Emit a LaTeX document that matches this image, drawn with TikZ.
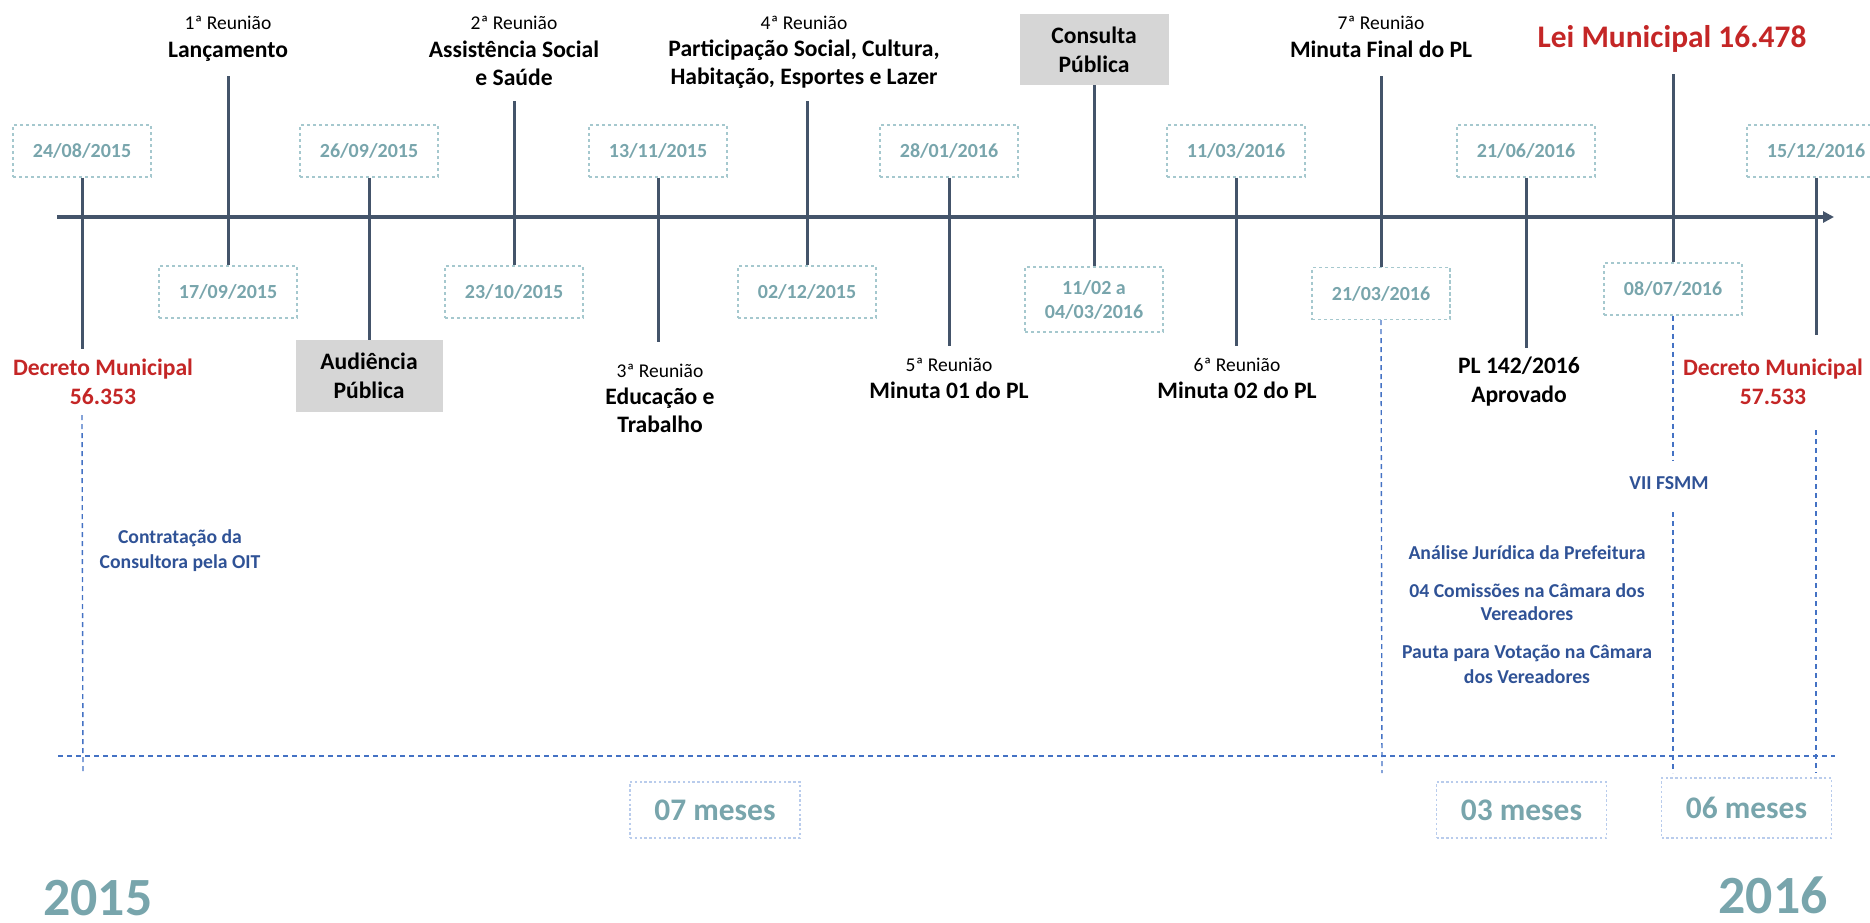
\documentclass[tikz,border=0pt]{standalone}
\usepackage{fontspec}
\setmainfont{Carlito}
\usetikzlibrary{arrows.meta}
\definecolor{axiscol}{RGB}{68,84,106}
\definecolor{datecol}{RGB}{120,165,172}
\definecolor{dateborder}{RGB}{165,200,206}
\definecolor{mesborder}{RGB}{185,204,236}
\definecolor{redcol}{RGB}{196,38,38}
\definecolor{bluetext}{RGB}{47,82,150}
\definecolor{bluedashcol}{RGB}{68,114,196}
\definecolor{grayfill}{RGB}{214,214,214}
\begin{document}
\begin{tikzpicture}[x=0.5pt,y=-0.5pt,
  axisline/.style={draw=axiscol, line width=1.6pt},
  tickline/.style={draw=axiscol, line width=1.5pt},
  lbl/.style={font=\bfseries\fontsize{11.8}{14.5}\selectfont, anchor=base, inner sep=0pt},
  redlbl/.style={lbl, text=redcol},
  sublbl/.style={font=\fontsize{9.75}{12}\selectfont, anchor=base, inner sep=0pt},
  datebox/.style={draw=dateborder, dash pattern=on 1.6pt off 1.4pt, line width=0.6pt,
     minimum width=69pt, minimum height=26pt, text=datecol, inner sep=0pt, align=center,
     font=\bfseries\fontsize{10}{12}\selectfont},
  graybox/.style={fill=grayfill, inner sep=0pt, align=center,
     font=\bfseries\fontsize{11.8}{14.5}\selectfont},
  bluedash/.style={draw=bluedashcol, line width=0.7pt, dash pattern=on 2.5pt off 2pt},
  bluetxt/.style={text=bluetext, font=\bfseries\fontsize{9.85}{12}\selectfont, anchor=base, inner sep=0pt},
  mesbox/.style={draw=mesborder, dash pattern=on 1.2pt off 1.2pt, line width=0.6pt,
     minimum width=85pt, minimum height=28pt, text=datecol, inner sep=0pt,
     font=\bfseries\fontsize{15.7}{18}\selectfont},
  yearlbl/.style={text=datecol, font=\bfseries\fontsize{26.9}{30}\selectfont, inner sep=0pt}
]
\useasboundingbox (0,0) rectangle (1870,922);

% main axis
\coordinate (axL) at (57,217);
\coordinate (axR) at (1834,217);
\draw[axisline, -{Triangle[length=5.5pt,width=5.5pt]}] (axL) -- (axR);

% date boxes above the axis
\node[datebox] (d1) at (82,151) {24/08/2015};
\node[datebox] (d3) at (369,151) {26/09/2015};
\node[datebox] (d5) at (658,151) {13/11/2015};
\node[datebox] (d7) at (949,151) {28/01/2016};
\node[datebox] (d9) at (1236,151) {11/03/2016};
\node[datebox] (d11) at (1526,151) {21/06/2016};
\node[datebox] (d13) at (1816,151) {15/12/2016};
% date boxes below the axis
\node[datebox] (d2) at (228,292) {17/09/2015};
\node[datebox] (d4) at (514,292) {23/10/2015};
\node[datebox] (d6) at (807,292) {02/12/2015};
\node[datebox, minimum height=32.5pt] (d8) at (1094,299.5) {11/02 a\\04/03/2016};
\node[datebox] (d10) at (1381,293.5) {21/03/2016};
\node[datebox] (d12) at (1673,289) {08/07/2016};

% gray boxes
\node[graybox, minimum width=73.5pt, minimum height=36pt] (aud) at (369,376) {Audiência\\Pública};
\node[graybox, minimum width=74.5pt, minimum height=35.5pt] (cons) at (1094,49.5) {Consulta\\Pública};

% tick end coordinates
\coordinate (t1e) at (82,349);
\coordinate (t2s) at (228,76);
\coordinate (t4s) at (514,101);
\coordinate (t5e) at (658,342);
\coordinate (t6s) at (807,101);
\coordinate (t7e) at (949,346);
\coordinate (t9e) at (1236,346);
\coordinate (t10s) at (1381,76);
\coordinate (t11e) at (1526,348);
\coordinate (t12s) at (1673,74);
\coordinate (t13e) at (1816,335);

% ticks
\draw[tickline] (d1.south) -- (t1e);
\draw[tickline] (t2s) -- (d2.north);
\draw[tickline] (d3.south) -- (aud.north);
\draw[tickline] (t4s) -- (d4.north);
\draw[tickline] (d5.south) -- (t5e);
\draw[tickline] (t6s) -- (d6.north);
\draw[tickline] (d7.south) -- (t7e);
\draw[tickline] (cons.south) -- (d8.north);
\draw[tickline] (d9.south) -- (t9e);
\draw[tickline] (t10s) -- (d10.north);
\draw[tickline] (d11.south) -- (t11e);
\draw[tickline] (t12s) -- (d12.north);
\draw[tickline] (d13.south) -- (t13e);

% labels above
\node[sublbl] (r1) at (228,29) {1ª Reunião};
\node[lbl] (l1) at (228,57) {Lançamento};
\node[sublbl] (r2) at (514,29) {2ª Reunião};
\node[lbl] (l2a) at (514,57) {Assistência Social};
\node[lbl] (l2b) at (514,85) {e Saúde};
\node[sublbl] (r4) at (804,29) {4ª Reunião};
\node[lbl] (l4a) at (804,56) {Participação Social, Cultura,};
\node[lbl] (l4b) at (804,84) {Habitação, Esportes e Lazer};
\node[sublbl] (r7) at (1381,29) {7ª Reunião};
\node[lbl] (l7) at (1381,57) {Minuta Final do PL};
\node[redlbl, font=\bfseries\fontsize{15.7}{18}\selectfont] (lei) at (1672,47) {Lei Municipal 16.478};

% labels below
\node[redlbl] (dec1a) at (103,375.5) {Decreto Municipal};
\node[redlbl] (dec1b) at (103,404.5) {56.353};
\node[sublbl] (r3) at (660,377) {3ª Reunião};
\node[lbl] (l3a) at (660,404.5) {Educação e};
\node[lbl] (l3b) at (660,432.5) {Trabalho};
\node[sublbl] (r5) at (949,371) {5ª Reunião};
\node[lbl] (l5) at (949,398.5) {Minuta 01 do PL};
\node[sublbl] (r6) at (1237,371) {6ª Reunião};
\node[lbl] (l6) at (1237,398.5) {Minuta 02 do PL};
\node[lbl] (pla) at (1519,373.5) {PL 142/2016};
\node[lbl] (plb) at (1519,402.5) {Aprovado};
\node[redlbl] (dec2a) at (1773,375.5) {Decreto Municipal};
\node[redlbl] (dec2b) at (1773,404.5) {57.533};

% blue notes
\node[bluetxt] (c1) at (180,543) {Contratação da};
\node[bluetxt] (c2) at (180,568) {Consultora pela OIT};
\node[bluetxt] (vii) at (1669,489) {VII FSMM};
\node[bluetxt] (an) at (1527,559) {Análise Jurídica da Prefeitura};
\node[bluetxt] (co1) at (1527,597) {04 Comissões na Câmara dos};
\node[bluetxt] (co2) at (1527,620) {Vereadores};
\node[bluetxt] (pa1) at (1527,658) {Pauta para Votação na Câmara};
\node[bluetxt] (pa2) at (1527,683) {dos Vereadores};

% blue dashed guides
\coordinate (g1s) at (82,415);
\coordinate (g1e) at (83,772);
\coordinate (g2e) at (1382,773);
\coordinate (g3a) at (1673,460);
\coordinate (g3b) at (1673,512);
\coordinate (g3e) at (1673,773);
\coordinate (g4s) at (1816,430);
\coordinate (g4e) at (1816,773);
\coordinate (hL) at (58,756);
\coordinate (hR) at (1835,756);
\draw[bluedash] (g1s) -- (g1e);
\draw[bluedash] (d10.south) -- (g2e);
\draw[bluedash] (d12.south) -- (g3a);
\draw[bluedash] (g3b) -- (g3e);
\draw[bluedash] (g4s) -- (g4e);
\draw[bluedash] (hL) -- (hR);

% period boxes
\node[mesbox] (m7) at (715,810) {07 meses};
\node[mesbox] (m3) at (1521.5,810) {03 meses};
\node[mesbox, minimum height=30pt] (m6) at (1746.5,808) {06 meses};

% years
\node[yearlbl, anchor=base west] (y15) at (43,915) {2015};
\node[yearlbl, anchor=base east] (y16) at (1828,913) {2016};
\end{tikzpicture}
\end{document}
